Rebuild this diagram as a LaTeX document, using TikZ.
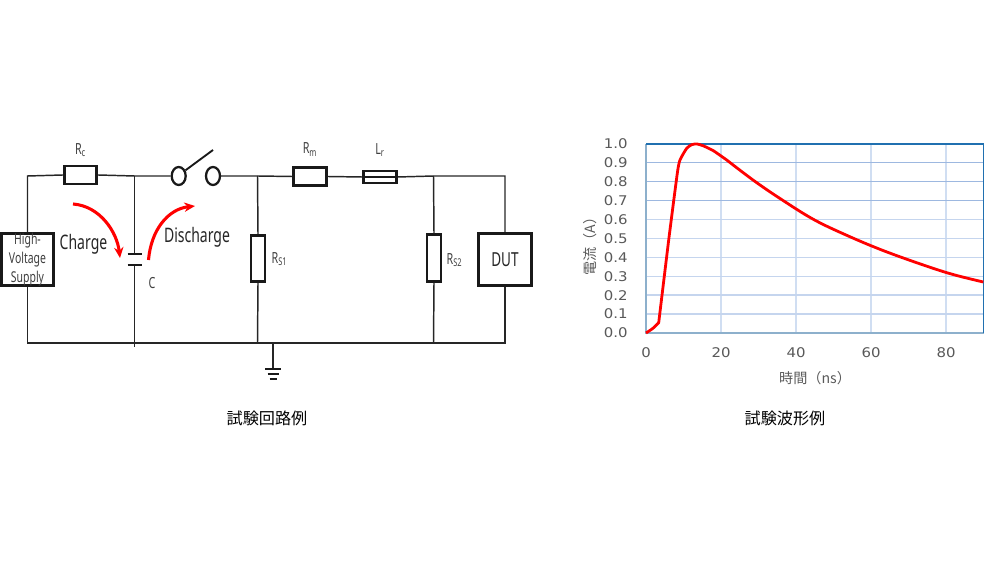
\documentclass[tikz,border=0pt]{standalone}
\usepackage{fontspec}
\setmainfont[FakeStretch=0.7]{Noto Sans}
\newfontfamily\cjkfont{Noto Sans CJK JP}
\newfontfamily\tickfont[FakeStretch=1.12]{DejaVu Sans}
\usetikzlibrary{arrows.meta,calc,shapes.geometric}
\definecolor{ticktext}{HTML}{595959}
\definecolor{gridA}{HTML}{9DB8E0}
\definecolor{gridB}{HTML}{C5D5EE}
\definecolor{gridV}{HTML}{D0DEF2}
\definecolor{frameA}{HTML}{8DB0CC}
\definecolor{frameB}{HTML}{2070B0}
\tikzset{
  x=0.75pt,y=-0.75pt,
  wire/.style={line width=1.1pt,black!85},
  compbox/.style={draw=black!90,line width=2.1pt,fill=white,inner sep=0pt,minimum width=#1},
  boxh/.style={minimum height=#1},
  term/.style={ellipse,draw=black!90,line width=1.7pt,fill=white,inner sep=0pt,minimum width=10.5pt,minimum height=13.5pt},
  plate/.style={line width=1.9pt,black!90},
  lab/.style={inner sep=0pt,text=black!75,font=\fontsize{11.5pt}{12pt}\selectfont},
  biglab/.style={inner sep=0pt,text=black!85,font=\fontsize{15pt}{16pt}\selectfont},
  caption/.style={inner sep=0pt,text=black,font=\cjkfont\fontsize{12.1pt}{13pt}\selectfont},
  ticklab/.style={inner sep=0pt,text=ticktext,font=\tickfont\fontsize{10pt}{11pt}\selectfont},
  cjkaxis/.style={inner sep=0pt,text=ticktext,font=\cjkfont\fontsize{10.6pt}{11pt}\selectfont},
  flow/.style={red,line width=2.3pt,-{Stealth[length=8pt,width=7pt]}},
}
\begin{document}
\begin{tikzpicture}
\useasboundingbox (0,0) rectangle (1007,566);
% junctions
\coordinate (tl) at (27.5,176);
\coordinate (bl) at (27.5,343);
\coordinate (tc) at (134.5,176);
\coordinate (bc) at (134.5,343);
\coordinate (bcx) at (134.5,347);
\coordinate (ts) at (257.5,176);
\coordinate (bs) at (257.5,343);
\coordinate (t2) at (433.5,176);
\coordinate (b2) at (433.5,343);
\coordinate (tr) at (505,176);
\coordinate (br) at (505,343);
\coordinate (bg) at (273,343);
\coordinate (gt) at (273,369);
\coordinate (capa) at (134.5,254);
\coordinate (capb) at (134.5,265);
\coordinate (armend) at (213,150);
% components
\node[compbox=24.5pt,boxh=13.5pt] (rc) at (80.5,175) {};
\node[term] (sa) at (178.7,176) {};
\node[term] (sb) at (213,176) {};
\node[compbox=24.5pt,boxh=13.5pt] (rm) at (310,176.5) {};
\node[compbox=24.5pt,boxh=9pt] (lr) at (380,177) {};
\node[compbox=10.5pt,boxh=35pt] (rs1) at (258,258.5) {};
\node[compbox=10.5pt,boxh=35pt] (rs2) at (434,258) {};
\node[compbox=39.5pt,boxh=39.5pt] (hv) at (27.5,259.5) {};
\node[compbox=40pt,boxh=39.5pt] (dut) at (505,259.5) {};
% wires
\draw[wire] (hv.north) -- (tl) -- (rc.west);
\draw[wire] (rc.east) -- (tc) -- (sa.west);
\draw[wire] (sb.east) -- (ts) -- (rm.west);
\draw[wire] (rm.east) -- (lr.west);
\draw[wire] (lr.east) -- (t2) -- (tr) -- (dut.north);
\draw[wire] (dut.south) -- (br) -- (bl) -- (hv.south);
\draw[wire] (tc) -- (capa);
\draw[wire] (capb) -- (bcx);
\draw[wire] (ts) -- (rs1.north);
\draw[wire] (rs1.south) -- (bs);
\draw[wire] (t2) -- (rs2.north);
\draw[wire] (rs2.south) -- (b2);
\draw[wire] (bg) -- (gt);
\draw[line width=1.5pt,black!90] (lr.west) -- (lr.east);
\draw[line width=1.4pt,black!90] (sa.40) -- (armend);
% capacitor
\draw[plate] ($(capa)+(-7,0)$) -- ($(capa)+(7,0)$);
\draw[plate] ($(capb)+(-7,0)$) -- ($(capb)+(7,0)$);
% ground
\draw[plate] ($(gt)+(-8,0)$) -- ($(gt)+(8,0)$);
\draw[plate] ($(gt)+(-5.5,5)$) -- ($(gt)+(5.5,5)$);
\draw[plate] ($(gt)+(-3.5,10)$) -- ($(gt)+(3.5,10)$);
% labels
\node[lab,font=\fontsize{11.2pt}{14pt}\selectfont,align=center] (hvt) at (27.5,259.5) {High-\\Voltage\\Supply};
\node[biglab,font=\fontsize{14.5pt}{16pt}\selectfont] (dutt) at (505,260) {DUT};
\node[lab] (lrc) at (80.5,150) {R\textsubscript{c}};
\node[lab] (lrm) at (310,149.5) {R\textsubscript{m}};
\node[lab] (llr) at (380,150) {L\textsubscript{r}};
\node[lab] (lrs1) at (279.5,259) {R\textsubscript{S1}};
\node[lab] (lrs2) at (454.5,260) {R\textsubscript{S2}};
\node[lab] (lc) at (152,283) {C};
\node[biglab] (lcharge) at (83.5,244) {Charge};
\node[biglab] (ldis) at (197,237) {Discharge};
% flow arrows
\coordinate (cha) at (73,204);
\coordinate (chb) at (120,258);
\coordinate (dia) at (148.5,260);
\coordinate (dib) at (195,206);
\draw[flow] (cha) .. controls (100,206) and (117,232) .. (chb);
\draw[flow] (dia) .. controls (151,230) and (168,209) .. (dib);
% captions
\node[caption] (cap1) at (267,418) {試験回路例};
\node[caption] (cap2) at (785,418) {試験波形例};
% chart grid
\foreach \xx in {721,796,871,946}{\draw[gridV,line width=1.4pt] (\xx,144) -- (\xx,333);}
\foreach \yy in {314.1,295.2,276.3,257.4,238.5,219.6}{\draw[gridB,line width=1.1pt] (646,\yy) -- (983.5,\yy);}
\foreach \yy in {200.7,181.8,162.9}{\draw[gridA,line width=0.8pt] (646,\yy) -- (983.5,\yy);}
\draw[frameA,line width=1.4pt] (983.5,333) -- (646,333) -- (646,144);
\draw[frameB,line width=1.1pt] (646,144) -- (983.5,144) -- (983.5,333);
% curve
\draw[red,line width=2.1pt,line join=round] plot[smooth,tension=0.35] coordinates {(646,333)(652.7,328.5)(658.7,322.7)} -- plot[smooth,tension=0.35] coordinates {(658.7,322.7)(668.7,240)(677.3,173.3)(680,160)(686.7,148.3)(691.7,144.7)(696.7,143.9)(703,145.7)(713.3,150.7)(726.7,160)} -- plot[smooth,tension=0.6] coordinates {(726.7,160)(753,180)(780,198.5)(813.3,219.3)(846.7,235.3)(883,250.5)(923.3,265)(953,274.5)(983.3,282)};
% ticks
\foreach \v/\yy in {1.0/144,0.9/162.9,0.8/181.8,0.7/200.7,0.6/219.6,0.5/238.5,0.4/257.4,0.3/276.3,0.2/295.2,0.1/314.1,0.0/333}{\node[ticklab,anchor=east] (y\v) at (628,\yy) {\v};}
\foreach \v/\xx in {0/646,20/721,40/796,60/871,80/946}{\node[ticklab] (x\v) at (\xx,353) {\v};}
\node[cjkaxis] (xt) at (815,378) {時間（ns）};
\node[cjkaxis,rotate=90] (yt) at (590,243) {電流（A）};
\end{tikzpicture}
\end{document}
